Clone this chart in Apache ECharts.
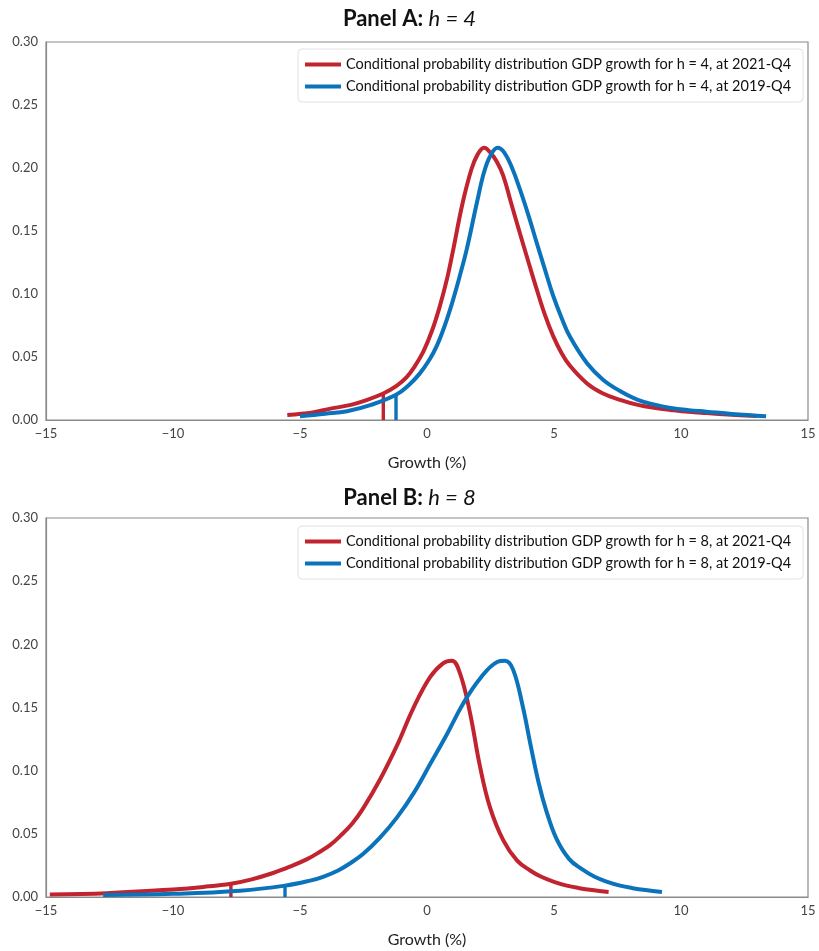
<!DOCTYPE html>
<html>
<head>
<meta charset="utf-8">
<script src="https://cdn.jsdelivr.net/npm/echarts@6/dist/echarts.min.js"></script>
<style>
  html, body { margin: 0; padding: 0; background: #fff; }
  #chart { width: 819px; height: 951px; }
</style>
</head>
<body>
<div id="chart"></div>
<script>
// Conditional densities of GDP growth, [growth %, density]
const h4_2021 = [[-5.5,0.004],[-4.5,0.006],[-3.8,0.009],[-3.0,0.012],[-2.5,0.015],[-1.72,0.021],[-1.2,0.027],[-0.8,0.034],[-0.5,0.042],[-0.15,0.054],[0.2,0.071],[0.5,0.090],[0.8,0.113],[1.0,0.132],[1.4,0.172],[1.75,0.199],[2.0,0.211],[2.25,0.216],[2.5,0.212],[2.75,0.205],[3.0,0.194],[3.3,0.173],[3.66,0.148],[4.0,0.125],[4.33,0.103],[4.65,0.083],[4.96,0.067],[5.3,0.053],[5.63,0.043],[6.3,0.029],[6.93,0.021],[7.6,0.016],[8.3,0.012],[9.0,0.0095],[9.6,0.008],[10.3,0.0065],[11.0,0.0055],[12.0,0.0042],[13.0,0.0032]];
const h4_2019 = [[-5.0,0.003],[-4.0,0.005],[-3.15,0.007],[-2.2,0.012],[-1.22,0.020],[-0.7,0.028],[-0.28,0.037],[0.1,0.048],[0.39,0.059],[0.7,0.075],[1.02,0.095],[1.3,0.115],[1.57,0.136],[1.97,0.173],[2.25,0.197],[2.5,0.210],[2.78,0.216],[3.05,0.212],[3.35,0.200],[3.66,0.183],[4.0,0.162],[4.33,0.140],[4.65,0.119],[4.96,0.099],[5.3,0.081],[5.63,0.066],[6.3,0.045],[6.93,0.032],[7.6,0.023],[8.3,0.016],[9.0,0.012],[9.6,0.0095],[10.3,0.0078],[11.0,0.0066],[12.0,0.0048],[13.35,0.003]];
const h8_2021 = [[-14.85,0.002],[-12.6,0.003],[-10.0,0.006],[-8.8,0.008],[-7.72,0.0105],[-6.9,0.014],[-6.06,0.019],[-5.4,0.024],[-4.72,0.030],[-4.2,0.036],[-3.82,0.041],[-3.43,0.048],[-2.95,0.058],[-2.52,0.070],[-1.85,0.093],[-1.18,0.120],[-0.55,0.149],[0.12,0.174],[0.63,0.185],[0.98,0.187],[1.3,0.177],[1.69,0.146],[2.09,0.103],[2.48,0.071],[3.0,0.045],[3.54,0.029],[4.06,0.021],[4.5,0.016],[5.0,0.012],[5.5,0.009],[6.0,0.007],[6.5,0.0055],[7.15,0.004]];
const h8_2019 = [[-12.75,0.0015],[-10.0,0.0025],[-7.36,0.005],[-5.59,0.009],[-4.6,0.013],[-4.09,0.016],[-3.5,0.021],[-3.0,0.027],[-2.52,0.034],[-1.85,0.047],[-1.18,0.063],[-0.5,0.083],[0.12,0.105],[0.79,0.129],[1.42,0.153],[2.09,0.173],[2.76,0.186],[3.07,0.187],[3.39,0.180],[3.78,0.150],[4.06,0.122],[4.4,0.090],[4.7,0.068],[5.1,0.046],[5.6,0.030],[6.1,0.022],[6.6,0.016],[7.1,0.012],[7.6,0.009],[8.1,0.007],[8.6,0.0055],[9.25,0.004]];

// Lower-tail markers: [growth %, density at that point]
const markA_2021 = [-1.72, 0.021];
const markA_2019 = [-1.22, 0.020];
const markB_2021 = [-7.72, 0.0105];
const markB_2019 = [-5.59, 0.009];

const xTicks = [-15, -10, -5, 0, 5, 10, 15];
const yTicks = [0, 0.05, 0.10, 0.15, 0.20, 0.25, 0.30];

const names = {
  a21: 'Conditional probability distribution GDP growth for h = 4, at 2021-Q4',
  a19: 'Conditional probability distribution GDP growth for h = 4, at 2019-Q4',
  b21: 'Conditional probability distribution GDP growth for h = 8, at 2021-Q4',
  b19: 'Conditional probability distribution GDP growth for h = 8, at 2019-Q4'
};

const RED = '#C1232F';
const BLUE = '#0A73BB';
const FONT = 'Lato';

function xAxisFor(gridIndex) {
  return {
    type: 'value', gridIndex, min: xTicks[0], max: xTicks[xTicks.length - 1], interval: 5,
    name: 'Growth (%)', nameLocation: 'middle', nameGap: 35,
    nameTextStyle: { fontFamily: FONT, fontSize: 16, color: '#222' },
    axisLine: { show: true, onZero: false, lineStyle: { color: '#8a8a8a', width: 1.2 } },
    axisTick: { show: false },
    axisLabel: { fontFamily: FONT, fontSize: 13, color: '#444', margin: 7,
      formatter: v => String(v).replace('-', '\u2212') },
    splitLine: { show: false }
  };
}
function yAxisFor(gridIndex) {
  return {
    type: 'value', gridIndex, min: yTicks[0], max: yTicks[yTicks.length - 1], interval: 0.05,
    axisLine: { show: true, onZero: false, lineStyle: { color: '#8a8a8a', width: 1.2 } },
    axisTick: { show: false },
    axisLabel: { fontFamily: FONT, fontSize: 13, color: '#444', margin: 8,
      formatter: v => v.toFixed(2) },
    splitLine: { show: false }
  };
}
function curve(name, data, color, idx) {
  return {
    name, type: 'line', data, xAxisIndex: idx, yAxisIndex: idx,
    smooth: 0.4, showSymbol: false, symbol: 'none',
    lineStyle: { color, width: 4 }, itemStyle: { color }, z: 3
  };
}
function marker(pt, color, idx) {
  return {
    type: 'line', data: [[pt[0], 0], pt], xAxisIndex: idx, yAxisIndex: idx,
    showSymbol: false, symbol: 'none', silent: true,
    lineStyle: { color, width: 3.4 }, z: 2
  };
}
function legendFor(top, a, b) {
  return {
    data: [a, b], orient: 'vertical', left: 298, top,
    icon: 'rect', itemWidth: 36, itemHeight: 4, itemGap: 7,
    backgroundColor: '#fff', borderColor: '#e2e2e2', borderWidth: 1, borderRadius: 4,
    padding: [8, 12, 8, 7],
    textStyle: { fontFamily: FONT, fontSize: 14.5, color: '#111' }
  };
}
function titleFor(top, panel, h) {
  return {
    text: '{b|Panel ' + panel + ': }{i|h = ' + h + '}', left: 'center', top,
    textStyle: { rich: {
      b: { fontFamily: FONT, fontSize: 22, fontWeight: 'bold', color: '#111' },
      i: { fontFamily: FONT, fontSize: 22, fontWeight: 'normal', fontStyle: 'italic', color: '#111' } } }
  };
}

const option = {
  animation: false,
  backgroundColor: '#fff',
  title: [titleFor(3, 'A', 4), titleFor(482, 'B', 8)],
  legend: [legendFor(49, names.a21, names.a19), legendFor(526, names.b21, names.b19)],
  grid: [
    { left: 46, right: 11, top: 42, height: 378, show: true, borderColor: '#8a8a8a', borderWidth: 1.2 },
    { left: 46, right: 11, top: 518, height: 379, show: true, borderColor: '#8a8a8a', borderWidth: 1.2 }
  ],
  xAxis: [xAxisFor(0), xAxisFor(1)],
  yAxis: [yAxisFor(0), yAxisFor(1)],
  series: [
    curve(names.a21, h4_2021, RED, 0),
    curve(names.a19, h4_2019, BLUE, 0),
    marker(markA_2021, RED, 0),
    marker(markA_2019, BLUE, 0),
    curve(names.b21, h8_2021, RED, 1),
    curve(names.b19, h8_2019, BLUE, 1),
    marker(markB_2021, RED, 1),
    marker(markB_2019, BLUE, 1)
  ]
};

echarts.init(document.getElementById('chart'), null, { renderer: 'canvas' }).setOption(option);
</script>
</body>
</html>
